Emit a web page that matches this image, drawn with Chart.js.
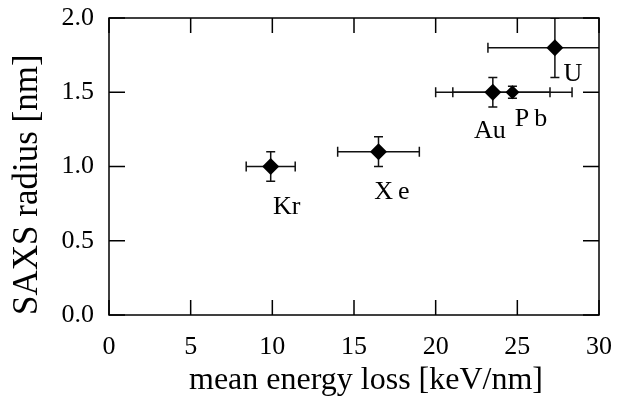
<!DOCTYPE html>
<html>
<head>
<meta charset="utf-8">
<script src="https://cdn.jsdelivr.net/npm/chart.js@4"></script>
<style>
  html, body { margin: 0; padding: 0; background: white; }
  #wrap { width: 617px; height: 396px; }
</style>
</head>
<body>
<div id="wrap"><canvas id="myChart" width="617" height="396"></canvas></div>
<script>
const ions = ['Kr', 'Xe', 'Au', 'Pb', 'U']
const energyLoss = [9.9, 16.5, 23.5, 24.7, 27.3]
const energyLossErr = [1.5, 2.5, 3.5, 3.65, 4.1]
const saxsRadius = [1.0, 1.1, 1.5, 1.5, 1.8]
const saxsRadiusErr = [0.1, 0.1, 0.1, 0.04, 0.2]
const xTicks = [0, 5, 10, 15, 20, 25, 30]
const yTicks = [0.0, 0.5, 1.0, 1.5, 2.0]
const xTitle = 'mean energy loss [keV/nm]'

// label placement, pixels from the marker, and letter spacing as in the scan
const labelOffsets = [[16, 41], [16, 41], [-3, 39], [21, 27], [18, 26]]
const labelSpacing = ['0px', '5px', '0px', '5px', '0px']
const serif = '"Liberation Serif", "Times New Roman", serif'

const puntos = ions.map((ion, i) => ({ x: energyLoss[i], y: saxsRadius[i] }))

const errorBars = {
    id: 'errorBars',
    beforeDatasetsDraw(chart) {
        const { ctx, chartArea, scales: { x, y } } = chart
        ctx.save()
        ctx.beginPath()
        ctx.rect(chartArea.left, chartArea.top, chartArea.right - chartArea.left, chartArea.bottom - chartArea.top)
        ctx.clip()
        ctx.strokeStyle = '#111'
        ctx.lineWidth = 1.5
        ions.forEach((ion, i) => {
            const px = x.getPixelForValue(energyLoss[i])
            const py = y.getPixelForValue(saxsRadius[i])
            const x1 = x.getPixelForValue(energyLoss[i] - energyLossErr[i])
            const x2 = x.getPixelForValue(energyLoss[i] + energyLossErr[i])
            const y1 = y.getPixelForValue(saxsRadius[i] - saxsRadiusErr[i])
            const y2 = y.getPixelForValue(saxsRadius[i] + saxsRadiusErr[i])
            ctx.beginPath()
            ctx.moveTo(x1, py); ctx.lineTo(x2, py)
            ctx.moveTo(x1, py - 5); ctx.lineTo(x1, py + 5)
            ctx.moveTo(x2, py - 5); ctx.lineTo(x2, py + 5)
            ctx.moveTo(px, y1); ctx.lineTo(px, y2)
            ctx.moveTo(px - 4.5, y1); ctx.lineTo(px + 4.5, y1)
            ctx.moveTo(px - 4.5, y2); ctx.lineTo(px + 4.5, y2)
            ctx.stroke()
        })
        ctx.restore()
    },
    afterDraw(chart) {
        const { ctx, chartArea: a, scales: { x, y } } = chart
        ctx.save()
        // frame + inward ticks on all sides
        ctx.strokeStyle = '#000'
        ctx.lineWidth = 1.5
        ctx.strokeRect(a.left, a.top, a.right - a.left, a.bottom - a.top)
        ctx.beginPath()
        xTicks.forEach(v => {
            const px = x.getPixelForValue(v)
            ctx.moveTo(px, a.bottom); ctx.lineTo(px, a.bottom - 15)
            ctx.moveTo(px, a.top); ctx.lineTo(px, a.top + 15)
        })
        yTicks.forEach(v => {
            const py = y.getPixelForValue(v)
            ctx.moveTo(a.left, py); ctx.lineTo(a.left + 16, py)
            ctx.moveTo(a.right, py); ctx.lineTo(a.right - 16, py)
        })
        ctx.stroke()

        ctx.fillStyle = '#000'
        ctx.textAlign = 'center'
        ctx.textBaseline = 'middle'

        // x axis title, sits a bit right of centre in the original
        ctx.font = '32px ' + serif
        ctx.fillText(xTitle, (a.left + a.right) / 2 + 12, 381)

        // ion names
        ctx.font = '26px ' + serif
        ions.forEach((ion, i) => {
            const px = x.getPixelForValue(energyLoss[i]) + labelOffsets[i][0]
            const py = y.getPixelForValue(saxsRadius[i]) + labelOffsets[i][1]
            ctx.letterSpacing = labelSpacing[i]
            ctx.fillText(ion, px, py)
        })
        ctx.restore()
    }
}

const config = {
    type: 'scatter',
    data: {
        datasets: [{
            label: 'SAXS radius',
            data: puntos,
            pointStyle: 'rectRot',
            pointRadius: [8.5, 8.5, 8.5, 7, 8.5],
            pointHoverRadius: 8.5,
            backgroundColor: '#000',
            borderColor: '#000',
            borderWidth: 0
        }]
    },
    options: {
        responsive: false,
        animation: false,
        events: [],
        layout: { padding: { top: 18, right: 18, left: 0, bottom: 0 } },
        plugins: { legend: { display: false }, tooltip: { enabled: false } },
        scales: {
            x: {
                type: 'linear',
                min: 0, max: 30,
                afterBuildTicks: s => { s.ticks = xTicks.map(v => ({ value: v })) },
                afterFit: s => { s.height = 81; s.paddingLeft = 0; s.paddingRight = 0 },
                grid: { display: false, drawTicks: false },
                border: { display: false },
                ticks: { color: '#000', padding: 17, font: { family: serif, size: 26 } },
                title: { display: false }
            },
            y: {
                type: 'linear',
                min: 0, max: 2,
                afterBuildTicks: s => { s.ticks = yTicks.map(v => ({ value: v })) },
                afterFit: s => { s.width = 109; s.paddingTop = 0; s.paddingBottom = 0 },
                grid: { display: false, drawTicks: false },
                border: { display: false },
                ticks: {
                    color: '#000', padding: 15,
                    font: { family: serif, size: 26 },
                    callback: v => Number(v).toFixed(1)
                },
                title: {
                    display: true,
                    text: 'SAXS radius [nm]',
                    align: 'start',
                    color: '#000',
                    padding: { top: 10, bottom: 0 },
                    font: { family: serif, size: 35, lineHeight: 1 }
                }
            }
        }
    },
    plugins: [errorBars]
}

const grafico = document.querySelector('#myChart')
grafico.style.backgroundColor = 'white'
new Chart(grafico, config)
</script>
</body>
</html>
